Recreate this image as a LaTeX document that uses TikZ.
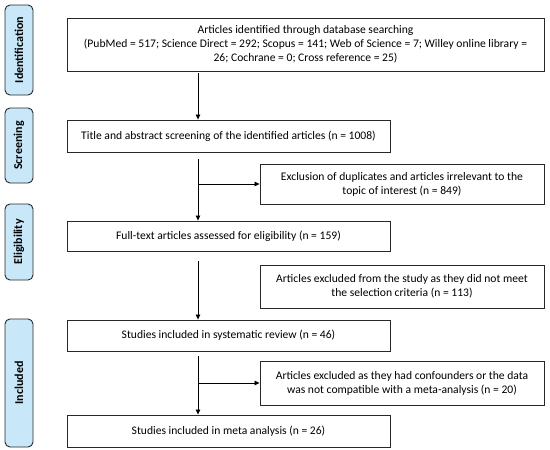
\documentclass[tikz,border=0pt]{standalone}
\usepackage{fontspec}
\setmainfont{Carlito}
\usetikzlibrary{arrows.meta}
\definecolor{sidefill}{RGB}{200,232,250}
\definecolor{edge}{RGB}{40,40,40}
\begin{document}
\begin{tikzpicture}[x=1pt,y=-1pt,
  box/.style={draw=edge,line width=0.9pt,inner sep=2pt,align=center,font=\fontsize{11.6}{14}\selectfont,anchor=center},
  side/.style={draw=edge,line width=0.9pt,fill=sidefill,rounded corners=5pt,minimum width=28pt,anchor=center,inner sep=0pt},
  sidetxt/.style={rotate=90,font=\bfseries\fontsize{12}{14}\selectfont},
  arr/.style={line width=0.8pt,draw=black,-{Triangle[length=5pt,width=4.5pt]}}]
\useasboundingbox (0,0) rectangle (550,450);
% side labels
\node[side,minimum height=90pt] (sid) at (19,50) {};
\node[sidetxt] at (sid.center) {Identification};
\node[side,minimum height=75pt] (ssc) at (19,145.5) {};
\node[sidetxt] at (ssc.center) {Screening};
\node[side,minimum height=76pt] (sel) at (19,242) {};
\node[sidetxt] at (sel.center) {Eligibility};
\node[side,minimum height=128pt] (sin) at (19,383) {};
\node[sidetxt] at (sin.center) {Included};
% main boxes
\node[box,minimum width=477pt,minimum height=53pt] (b1) at (305.5,44.5) {Articles identified through database searching\\(PubMed = 517; Science Direct = 292; Scopus = 141; Web of Science = 7; Willey online library =\\26; Cochrane = 0; Cross reference = 25)};
\node[box,minimum width=323pt,minimum height=32pt] (b2) at (228.5,136) {Title and abstract screening of the identified articles (n = 1008)};
\node[box,minimum width=284pt,minimum height=40pt] (e1) at (402,184) {Exclusion of duplicates and articles irrelevant to the\\topic of interest (n = 849)};
\node[box,minimum width=323pt,minimum height=30pt] (b3) at (228.5,236) {Full-text articles assessed for eligibility (n = 159)};
\node[box,minimum width=284pt,minimum height=43pt] (e2) at (402,286.5) {Articles excluded from the study as they did not meet\\the selection criteria (n = 113)};
\node[box,minimum width=323pt,minimum height=31pt] (b4) at (228.5,335.5) {Studies included in systematic review (n = 46)};
\node[box,minimum width=284pt,minimum height=44pt] (e3) at (402,383) {Articles excluded as they had confounders or the data\\was not compatible with a meta-analysis (n = 20)};
\node[box,minimum width=323pt,minimum height=32pt] (b5) at (228.5,431) {Studies included in meta analysis (n = 26)};
% connectors
\coordinate (c1) at (198,73);
\coordinate (c2) at (198,159);
\coordinate (c3) at (198,261);
\coordinate (c4) at (198,356);
\draw[arr] (c1) -- (b2.north -| c1);
\draw[arr] (c2) -- (b3.north -| c2);
\draw[arr] (e1.west -| c2) -- (e1.west);
\draw[arr] (c3) -- (b4.north -| c3);
\draw[arr] (c4) -- (b5.north -| c4);
\draw[arr] (e3.west -| c4) -- (e3.west);
\end{tikzpicture}
\end{document}
